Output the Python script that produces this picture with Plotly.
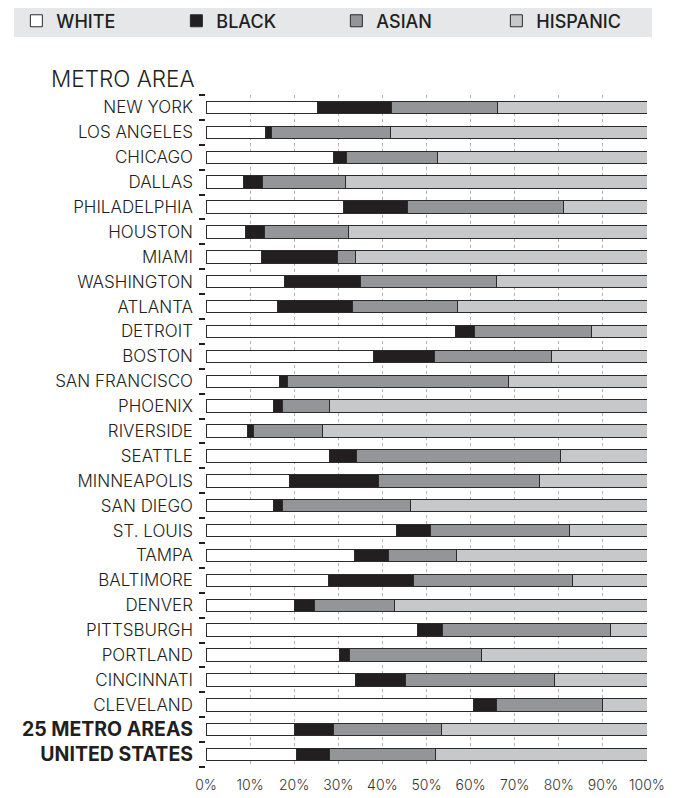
import plotly.graph_objects as go

categories = ["NEW YORK", "LOS ANGELES", "CHICAGO", "DALLAS", "PHILADELPHIA", "HOUSTON",
              "MIAMI", "WASHINGTON", "ATLANTA", "DETROIT", "BOSTON", "SAN FRANCISCO",
              "PHOENIX", "RIVERSIDE", "SEATTLE", "MINNEAPOLIS", "SAN DIEGO", "ST. LOUIS",
              "TAMPA", "BALTIMORE", "DENVER", "PITTSBURGH", "PORTLAND", "CINCINNATI",
              "CLEVELAND", "25 METRO AREAS", "UNITED STATES"]

# cumulative boundaries (percent)
white_end = [25.3, 13.4, 28.9, 8.5, 31.1, 9.0, 12.5, 17.9, 16.1, 56.6, 38.0, 16.6, 15.2, 9.3,
             28.0, 19.0, 15.4, 43.3, 33.6, 27.8, 20.1, 47.9, 30.2, 33.9, 60.6, 20.1, 20.6]
black_end = [42.0, 14.8, 31.8, 12.9, 45.7, 13.3, 29.9, 35.1, 33.3, 60.9, 51.7, 18.4, 17.4, 10.7,
             34.1, 39.1, 17.4, 50.9, 41.3, 47.1, 24.7, 53.7, 32.5, 45.3, 65.8, 29.0, 28.1]
asian_end = [66.0, 41.9, 52.4, 31.7, 81.0, 32.2, 34.0, 65.9, 57.0, 87.4, 78.4, 68.6, 28.1, 26.5,
             80.4, 75.6, 46.3, 82.4, 56.7, 83.0, 42.7, 91.8, 62.4, 79.0, 89.8, 53.3, 52.0]

white = [round(w, 1) for w in white_end]
black = [round(b - w, 1) for b, w in zip(black_end, white_end)]
asian = [round(a - b, 1) for a, b in zip(asian_end, black_end)]
hispanic = [round(100 - a, 1) for a in asian_end]

tick_labels = categories[:-2] + [
    '<b><span style="font-size:19.5px">25 METRO AREAS</span></b>',
    '<b><span style="font-size:19.5px">UNITED STATES</span></b>',
]
x_ticks = list(range(0, 101, 10))
x_tick_labels = [f"{v}%" for v in x_ticks]

series = [
    ("WHITE", white, "#ffffff"),
    ("BLACK", black, "#231f20"),
    ("ASIAN", asian, "#939598"),
    ("HISPANIC", hispanic, "#c7c8ca"),
]

FONT = "Inter, Lato, sans-serif"

fig = go.Figure()
for name, vals, color in series:
    fig.add_trace(go.Bar(
        name=name, y=categories, x=vals, orientation="h",
        marker=dict(color=color, line=dict(color="#2b2b2b", width=1)),
        width=0.5,
    ))

fig.update_layout(
    barmode="stack",
    width=665, height=790,
    margin=dict(l=198, r=26, t=87, b=31, autoexpand=False),
    paper_bgcolor="white", plot_bgcolor="white",
    font=dict(family=FONT, color="#231f20"),
    legend=dict(
        orientation="h", x=-0.43, y=1.110, xref="paper", yref="paper",
        yanchor="middle", xanchor="left",
        bgcolor="rgba(0,0,0,0)", entrywidth=115, entrywidthmode="pixels",
        font=dict(size=18, family=FONT, color="#231f20", weight=500),
        itemclick=False, traceorder="normal",
    ),
    shapes=[dict(type="rect", xref="paper", yref="paper",
                 x0=-192/441, x1=446/441, y0=1 + 58/672, y1=1 + 88/672,
                 fillcolor="#e6e7e8", line=dict(width=0), layer="below")],
    annotations=[dict(text="METRO AREA", xref="paper", yref="paper", x=0, y=1,
                      xshift=-9, yshift=1, xanchor="right", yanchor="bottom",
                      showarrow=False, font=dict(size=22.5, color="#231f20",
                                                 family=FONT, weight=300))],
)

fig.update_xaxes(
    range=[0, 100], tickvals=x_ticks, ticktext=x_tick_labels,
    showgrid=True, gridcolor="#b5b5b5", griddash="dot", gridwidth=1,
    zeroline=False, showline=False, automargin=False,
    ticks="outside", ticklen=5, tickcolor="rgba(0,0,0,0)",
    tickfont=dict(size=14, color="#333333", weight=300), fixedrange=True,
)
fig.update_yaxes(
    categoryorder="array", categoryarray=categories,
    tickvals=categories, ticktext=tick_labels,
    autorange="reversed", automargin=False,
    ticks="outside", tickson="boundaries", ticklen=6, tickcolor="#231f20", tickwidth=1.5,
    ticklabelstandoff=12,
    showgrid=False, showline=False,
    tickfont=dict(size=17, color="#231f20", weight=300), fixedrange=True,
)

fig.write_html("out.html")
